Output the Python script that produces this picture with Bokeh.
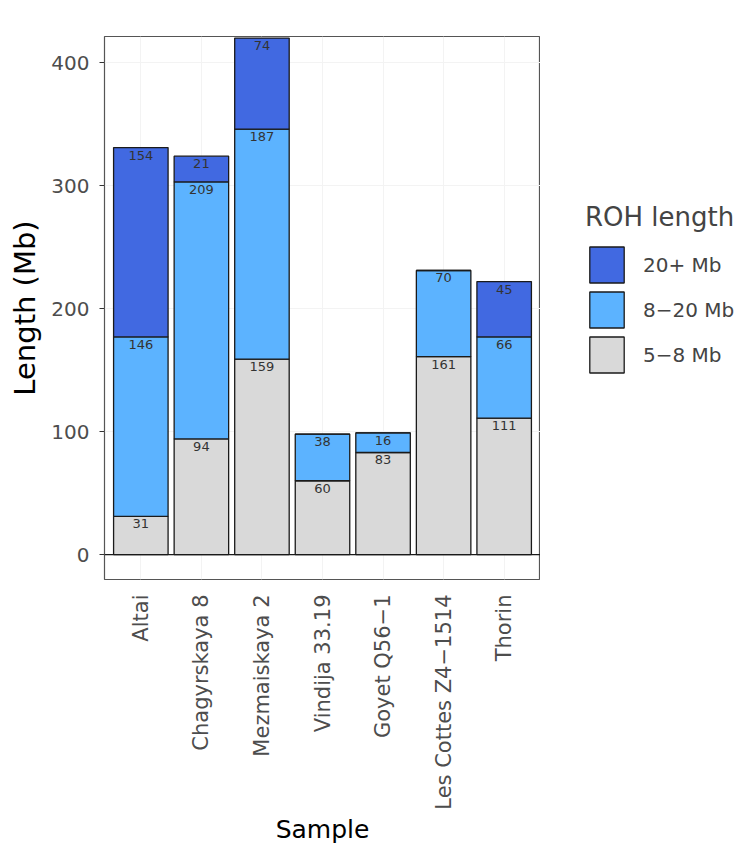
import numpy as np
from bokeh.plotting import figure
from bokeh.layouts import row
from bokeh.models import (ColumnDataSource, Range1d, Span, Legend, LegendItem,
                          FactorRange, SingleIntervalTicker)
from bokeh.core.properties import value
from bokeh.embed import file_html
from bokeh.resources import INLINE

samples = ["Altai", "Chagyrskaya 8", "Mezmaiskaya 2", "Vindija 33.19",
           "Goyet Q56\u22121", "Les Cottes Z4\u22121514", "Thorin"]
short = [31, 94, 159, 60, 83, 161, 111]      # 5-8 Mb
mid = [146, 209, 187, 38, 16, 70, 66]        # 8-20 Mb
long_ = [154, 21, 74, 0, 0, 0, 45]           # 20+ Mb
series_names = ["5\u22128 Mb", "8\u221220 Mb", "20+ Mb"]
colors = ["#D9D9D9", "#5CB3FF", "#4169E1"]

FONT = "DejaVu Sans"
TOTAL_H = 839

src = ColumnDataSource(dict(sample=samples, s=short, m=mid, l=long_))

p = figure(x_range=FactorRange(*samples),
           y_range=Range1d(-20.3, 421.3),
           frame_width=436, frame_height=543,
           output_backend="svg", toolbar_location=None,
           min_border_left=104, min_border_top=36, min_border_bottom=TOTAL_H - 36 - 543,
           min_border_right=0)
p.x_range.range_padding = 0.1
p.x_range.range_padding_units = "absolute"

renderers = p.vbar_stack(["s", "m", "l"], x="sample", width=0.9, source=src,
                         color=colors, line_color="#1A1A1A", line_width=1.3)

# labels at top of each segment
tops_s = np.array(short)
tops_m = tops_s + np.array(mid)
tops_l = tops_m + np.array(long_)
lab_x, lab_y, lab_t = [], [], []
for i, smp in enumerate(samples):
    for v, t in ((short[i], tops_s[i]), (mid[i], tops_m[i]), (long_[i], tops_l[i])):
        if v > 0:
            lab_x.append(smp); lab_y.append(float(t)); lab_t.append(str(v))
lsrc = ColumnDataSource(dict(x=lab_x, y=lab_y, t=lab_t))
p.text(x="x", y="y", text="t", source=lsrc, text_align="center",
       text_baseline="top", y_offset=3, text_font_size="13px",
       text_color="#333333", text_font=value(FONT))

p.add_layout(Span(location=0, dimension="width", line_color="#1A1A1A", line_width=1.2))

# axes
p.yaxis.ticker = SingleIntervalTicker(interval=100)
p.yaxis.axis_label = "Length (Mb)"
p.xaxis.axis_label = "Sample"
for ax in (p.xaxis[0], p.yaxis[0]):
    ax.axis_line_color = None
    ax.major_label_text_font = FONT
    ax.major_label_text_color = "#4D4D4D"
    ax.axis_label_text_font = FONT
    ax.axis_label_text_font_style = "normal"
    ax.axis_label_text_color = "#000000"
p.yaxis.major_label_text_font_size = "20px"
p.xaxis.major_label_text_font_size = "21px"
p.yaxis.axis_label_text_font_size = "29px"
p.xaxis.axis_label_text_font_size = "25px"
p.yaxis.major_tick_out = 5
p.yaxis.major_tick_in = 0
p.yaxis.major_tick_line_color = "#333333"
p.yaxis.minor_tick_line_color = None
p.yaxis.major_label_standoff = 10
p.yaxis.axis_label_standoff = 6
p.xaxis.major_tick_line_color = None
p.xaxis.major_tick_out = 0
p.xaxis.major_tick_in = 0
p.xaxis.major_label_orientation = np.pi / 2
p.xaxis.major_label_standoff = 15
p.xaxis.axis_label_standoff = 2

p.outline_line_color = "#555555"
p.outline_line_width = 1.2
p.xgrid.grid_line_color = "#F3F3F3"
p.ygrid.grid_line_color = "#F3F3F3"

# legend panel: a separate, axis-less figure (its frame is aligned with p's frame);
# its own copy of the bars is zero-width and out of view, used only for legend keys
LW = 195
q = figure(width=LW, height=TOTAL_H, x_range=FactorRange(*samples),
           y_range=Range1d(5000, 6000),
           output_backend="svg", toolbar_location=None,
           x_axis_type=None, y_axis_type=None,
           min_border=0, min_border_left=0, min_border_right=0,
           min_border_top=0, min_border_bottom=0)
q.outline_line_color = None
q.grid.grid_line_color = None
q.background_fill_alpha = 0
hidden = q.vbar_stack(["s", "m", "l"], x="sample", width=0, source=src,
                      color=colors, line_color="#1A1A1A", line_width=1.3)

items = [LegendItem(label=series_names[k], renderers=[hidden[k]]) for k in (2, 1, 0)]
legend = Legend(items=items, title="ROH length", location=(45, 195),
                title_text_font=FONT, title_text_font_size="26px",
                title_text_font_style="normal", title_standoff=10,
                label_text_font=FONT, label_text_font_size="20px",
                glyph_width=43, glyph_height=45, spacing=0,
                label_standoff=15, padding=0, margin=0,
                border_line_color=None, background_fill_alpha=0)

try:
    if "inactive_fill_alpha" in Legend.properties():
        legend.inactive_fill_alpha = 0
        for r in hidden:
            r.visible = False
except Exception:
    pass

q.add_layout(legend)

layout = row(p, q, spacing=0)
open("out.html", "w").write(file_html(layout, INLINE))
